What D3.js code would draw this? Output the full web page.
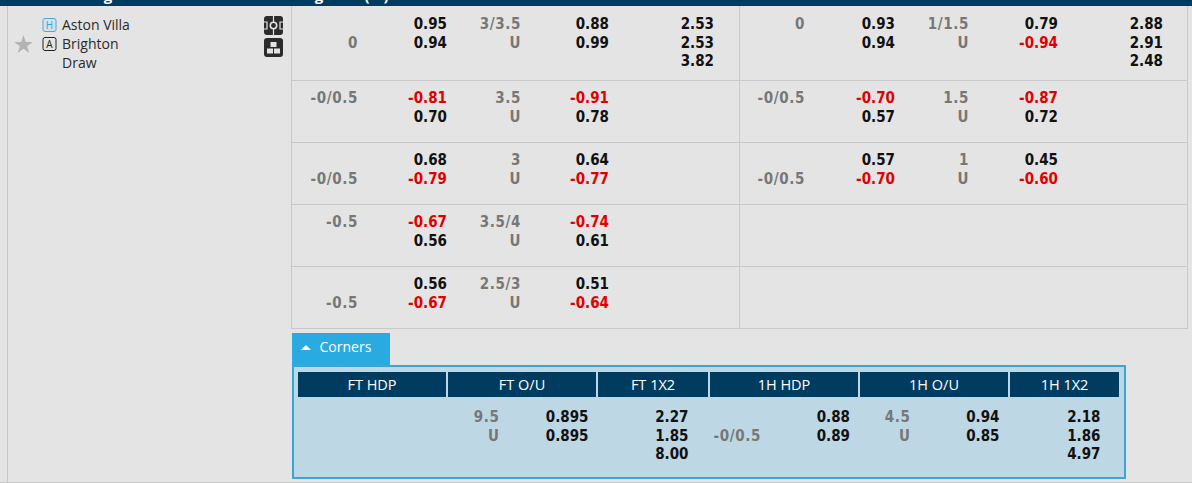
<!DOCTYPE html>
<html>
<head>
<meta charset="utf-8">
<script src="https://cdn.jsdelivr.net/npm/d3@7"></script>
<style>
  html, body { margin: 0; padding: 0; background: #e4e4e4; overflow: hidden; }
  svg { display: block; }
  .odd { font: bold 15px "DejaVu Sans Condensed", "DejaVu Sans", sans-serif; font-stretch: condensed; text-anchor: end; }
  .line { fill: #777; letter-spacing: 0.6px; }
  .team { font: 14px "Open Sans", sans-serif; fill: #2a2a2a; }
  .head { font: 14.5px "Open Sans", sans-serif; fill: #fff; text-anchor: middle; }
</style>
</head>
<body>
<div id="chart"></div>
<script>
var svgWidth = 1192;
var svgHeight = 483;

// full time
var ftHdpLines = [["", "0"], ["-0/0.5", ""], ["", "-0/0.5"], ["-0.5", ""], ["", "-0.5"]];
var ftHdpOdds = [["0.95", "0.94"], ["-0.81", "0.70"], ["0.68", "-0.79"], ["-0.67", "0.56"], ["0.56", "-0.67"]];
var ftOuLines = [["3/3.5", "U"], ["3.5", "U"], ["3", "U"], ["3.5/4", "U"], ["2.5/3", "U"]];
var ftOuOdds = [["0.88", "0.99"], ["-0.91", "0.78"], ["0.64", "-0.77"], ["-0.74", "0.61"], ["0.51", "-0.64"]];
var ft1x2 = [["2.53", "2.53", "3.82"]];

// first half
var hHdpLines = [["0", ""], ["-0/0.5", ""], ["", "-0/0.5"]];
var hHdpOdds = [["0.93", "0.94"], ["-0.70", "0.57"], ["0.57", "-0.70"]];
var hOuLines = [["1/1.5", "U"], ["1.5", "U"], ["1", "U"]];
var hOuOdds = [["0.79", "-0.94"], ["-0.87", "0.72"], ["0.45", "-0.60"]];
var h1x2 = [["2.88", "2.91", "2.48"]];

// corners
var cornerHeaders = ["FT HDP", "FT O/U", "FT 1X2", "1H HDP", "1H O/U", "1H 1X2"];
var cornerFtOuLines = ["9.5", "U"];
var cornerFtOuOdds = ["0.895", "0.895"];
var cornerFt1x2 = ["2.27", "1.85", "8.00"];
var cornerHHdpLines = ["", "-0/0.5"];
var cornerHHdpOdds = ["0.88", "0.89"];
var cornerHOuLines = ["4.5", "U"];
var cornerHOuOdds = ["0.94", "0.85"];
var cornerH1x2 = ["2.18", "1.86", "4.97"];

var teams = ["Aston Villa", "Brighton", "Draw"];

var svg = d3.select("#chart")
  .append("svg")
  .attr("width", svgWidth)
  .attr("height", svgHeight);

var columnNames = ["ftHdpLine", "ftHdpOdd", "ftOuLine", "ftOuOdd", "ft1x2", "hHdpLine", "hHdpOdd", "hOuLine", "hOuOdd", "h1x2"];
var xColumn = d3.scaleOrdinal()
  .domain(columnNames)
  .range([358, 447, 521, 609, 714, 805, 895, 969, 1058, 1163]);

// row edges, first row is taller because of the draw price
var rowEdges = [6, 80, 142, 204, 266, 328];
var xLeft = 291, xMid = 739, xRight = 1187;
var lineY = d3.scaleLinear().domain([0, 1]).range([0, 18.6]);

function rowY(row, line) {
  return rowEdges[row] + 23 + lineY(line);
}

// header bar, only the bottom of its text is still in view
svg.append("rect").attr("width", svgWidth).attr("height", 6).attr("fill", "#003c60");
[["g", 108], ["g", 319], ["(", 367], [")", 386]].forEach(function(d) {
  svg.append("text")
    .attr("x", d[1])
    .attr("y", 1)
    .attr("text-anchor", "middle")
    .attr("fill", "#fff")
    .style("font", "bold 15px 'Open Sans', sans-serif")
    .text(d[0]);
});
svg.append("rect").attr("y", 6).attr("width", svgWidth).attr("height", svgHeight - 6).attr("fill", "#e4e4e4");

// grid
var grid = svg.append("g").attr("stroke", "#c8c8c8").attr("stroke-width", 1).attr("shape-rendering", "crispEdges");
grid.selectAll(".rowline")
  .data(rowEdges.slice(1))
  .enter()
  .append("line")
  .attr("x1", xLeft)
  .attr("x2", xRight + 1)
  .attr("y1", d => d + 0.5)
  .attr("y2", d => d + 0.5);
[7, xLeft, xMid, xRight].forEach(function(x) {
  grid.append("line")
    .attr("x1", x + 0.5)
    .attr("x2", x + 0.5)
    .attr("y1", 6)
    .attr("y2", x === 7 ? 482 : 329);
});
grid.append("line").attr("x1", 0).attr("x2", svgWidth).attr("y1", 482.5).attr("y2", 482.5);

// match cell
var teamGroup = svg.append("g");
teamGroup.selectAll("text")
  .data(teams)
  .enter()
  .append("text")
  .attr("class", "team")
  .attr("x", 62)
  .attr("y", (d, i) => 30 + i * 19)
  .text(d => d);

function badge(label, y, stroke, fill, color) {
  teamGroup.append("rect")
    .attr("x", 43).attr("y", y).attr("width", 13).attr("height", 13).attr("rx", 2)
    .attr("fill", fill).attr("stroke", stroke);
  teamGroup.append("text")
    .attr("x", 49.5).attr("y", y + 10.5)
    .attr("text-anchor", "middle")
    .attr("fill", color)
    .style("font", "10px 'Open Sans', sans-serif")
    .text(label);
}
badge("H", 18.5, "#4fa9d8", "#cfe4ee", "#3d9fd2");
badge("A", 37.5, "#222", "#e4e4e4", "#222");

teamGroup.append("path")
  .attr("transform", "translate(23.5,45)")
  .attr("d", d3.symbol().type(d3.symbolStar).size(110)())
  .attr("fill", "#b4b4b4");

// field icon
var field = svg.append("g").attr("transform", "translate(264,16)");
field.append("rect").attr("width", 19).attr("height", 19).attr("rx", 3).attr("fill", "#2b2b2b");
field.append("circle").attr("cx", 9.5).attr("cy", 9.5).attr("r", 3.2).attr("fill", "none").attr("stroke", "#e4e4e4").attr("stroke-width", 1.6);
field.append("path").attr("d", "M9.5 0V6M9.5 13V19M0 6H3V13H0M19 6H16V13H19").attr("fill", "none").attr("stroke", "#e4e4e4").attr("stroke-width", 1.2);

// bricks icon
var bricks = svg.append("g").attr("transform", "translate(264,38)");
bricks.append("rect").attr("width", 19).attr("height", 19).attr("rx", 3).attr("fill", "#2b2b2b");
bricks.selectAll(".brick")
  .data([[6.5, 4], [3, 10.5], [10, 10.5]])
  .enter()
  .append("rect")
  .attr("x", d => d[0]).attr("y", d => d[1])
  .attr("width", 6).attr("height", 5)
  .attr("fill", "#e4e4e4");

function oddColor(v) {
  return v.charAt(0) === "-" ? "#e00000" : "#111";
}

function drawOdds(rows, column) {
  rows.forEach(function(values, row) {
    values.forEach(function(v, line) {
      svg.append("text")
        .attr("class", "odd")
        .attr("x", xColumn(column))
        .attr("y", rowY(row, line))
        .attr("fill", oddColor(v))
        .text(v);
    });
  });
}

function drawLines(rows, column) {
  rows.forEach(function(values, row) {
    values.forEach(function(v, line) {
      svg.append("text")
        .attr("class", "odd line")
        .attr("x", xColumn(column))
        .attr("y", rowY(row, line))
        .text(v);
    });
  });
}

drawLines(ftHdpLines, "ftHdpLine");
drawOdds(ftHdpOdds, "ftHdpOdd");
drawLines(ftOuLines, "ftOuLine");
drawOdds(ftOuOdds, "ftOuOdd");
drawOdds(ft1x2, "ft1x2");
drawLines(hHdpLines, "hHdpLine");
drawOdds(hHdpOdds, "hHdpOdd");
drawLines(hOuLines, "hOuLine");
drawOdds(hOuOdds, "hOuOdd");
drawOdds(h1x2, "h1x2");

// corners tab
svg.append("rect").attr("x", 292).attr("y", 333).attr("width", 98).attr("height", 33).attr("fill", "#29abe2");
svg.append("path").attr("d", "M301 350L306 345L311 350Z").attr("fill", "#fff");
svg.append("text")
  .attr("x", 319.5).attr("y", 352)
  .attr("fill", "#fff")
  .style("font", "14px 'Open Sans', sans-serif")
  .text("Corners");

svg.append("rect")
  .attr("x", 293).attr("y", 366).attr("width", 832).attr("height", 112)
  .attr("fill", "#bdd7e4")
  .attr("stroke", "#37a7d8")
  .attr("stroke-width", 2);

var headerLefts = [298, 448, 598, 710, 860, 1010];
var headerWidths = [148, 148, 110, 148, 148, 109];

svg.selectAll(".headcell")
  .data(cornerHeaders)
  .enter()
  .append("rect")
  .attr("class", "headcell")
  .attr("x", (d, i) => headerLefts[i])
  .attr("y", 372)
  .attr("width", (d, i) => headerWidths[i])
  .attr("height", 25)
  .attr("fill", "#003c60");

svg.selectAll(".head")
  .data(cornerHeaders)
  .enter()
  .append("text")
  .attr("class", "head")
  .attr("x", (d, i) => headerLefts[i] + headerWidths[i] / 2)
  .attr("y", 390)
  .text(d => d);

var cornerY = d3.scaleLinear().domain([0, 1]).range([422, 440.5]);

function drawCorner(values, x, isLine) {
  values.forEach(function(v, i) {
    svg.append("text")
      .attr("class", isLine ? "odd line" : "odd")
      .attr("x", x)
      .attr("y", cornerY(i))
      .attr("fill", isLine ? null : "#111")
      .text(v);
  });
}

drawCorner(cornerFtOuLines, 499.5, true);
drawCorner(cornerFtOuOdds, 588.5, false);
drawCorner(cornerFt1x2, 688.5, false);
drawCorner(cornerHHdpLines, 761, true);
drawCorner(cornerHHdpOdds, 850, false);
drawCorner(cornerHOuLines, 910.5, true);
drawCorner(cornerHOuOdds, 999.5, false);
drawCorner(cornerH1x2, 1100.5, false);
</script>
</body>
</html>
